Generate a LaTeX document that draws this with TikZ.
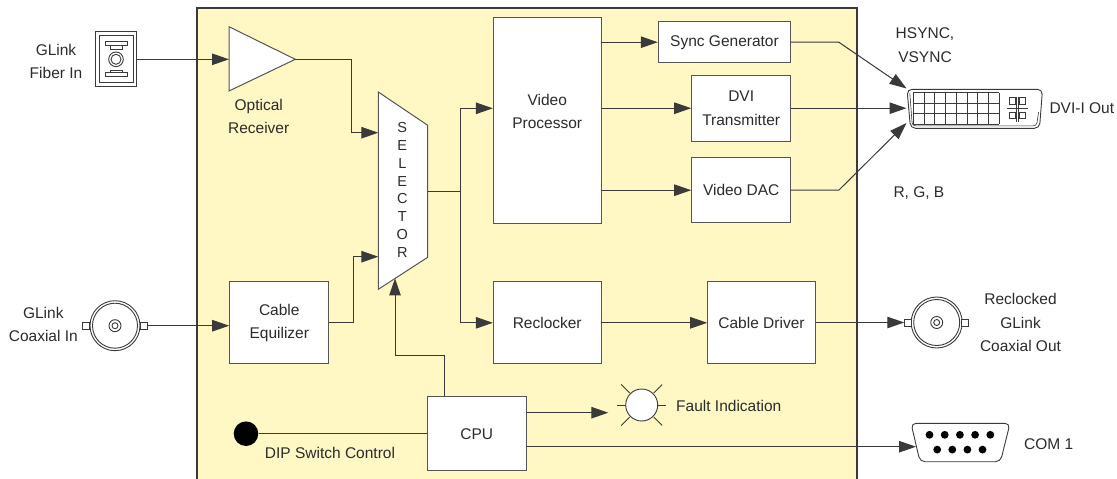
\documentclass[tikz,border=0pt]{standalone}
\usepackage{fontspec}
\setmainfont{Liberation Sans}
\usetikzlibrary{arrows.meta,calc}
\definecolor{yel}{HTML}{FFF8C4}
\definecolor{ln}{HTML}{3A3A3A}
\definecolor{bx}{HTML}{555555}
\definecolor{txt}{HTML}{2B2B2B}
\begin{document}
\begin{tikzpicture}[x=1pt,y=-1pt,
  every node/.style={font=\fontsize{15.5}{23.5}\selectfont, text=txt},
  blk/.style={draw=bx, fill=white, line width=1pt, align=center, inner sep=0pt},
  lbl/.style={align=center, inner sep=0pt},
  conn/.style={draw=ln, line width=1pt},
  arr/.style={conn, -{Triangle[length=17pt,width=11.5pt]}},
  part/.style={draw=ln, line width=0.9pt},
  thin/.style={draw=ln, line width=0.8pt},
  ray/.style={draw=ln, line width=0.8pt}]
\useasboundingbox (0,0) rectangle (1117,479);
% enclosure
\fill[yel] (197,8) rectangle (857,479);
\draw[draw=ln, line width=1.3pt] (197,479) -- (197,8) -- (857,8) -- (857,479);

% ---- fiber connector
\node[draw=ln, line width=0.9pt, fill=white, minimum width=41.4pt, minimum height=54.3pt, inner sep=0pt] (fib) at (116,58.85) {};
\draw[part] (99,35.7) rectangle (133,82.3);
\draw[part] (105,41.7) rectangle (127,45.7);
\draw[part] (110,45.7) rectangle (122,49);
\draw[part] (110,70) rectangle (122,72.7);
\draw[part] (105,72.7) rectangle (127,76.7);
\draw[part] (116,59.3) circle (7.3pt);
\draw[part] (116,59.3) circle (5pt);
\node[lbl] (fibl) at (56,61.5) {GLink\\Fiber In};

% ---- optical receiver
\coordinate (optin) at (229,59.3);
\coordinate (optout) at (295.3,59.3);
\draw[draw=bx, fill=white, line width=1pt] (229,26.7) -- (optout) -- (229,91) -- cycle;
\node[lbl] (optl) at (258.7,116.5) {Optical\\Receiver};
\draw[arr] (fib.east |- optin) -- (optin);

% ---- selector
\draw[draw=bx, fill=white, line width=1pt] (378.3,92) -- (427.7,125.3) -- (427.7,257.3) -- (378.3,289.3) -- cycle;
\coordinate (selin1) at (378.3,132.7);
\coordinate (selin2) at (378.3,256.7);
\coordinate (selbot) at (395,278.4);
\coordinate (selout) at (427.7,191);
\node[lbl, font=\fontsize{14.5}{17.8}\selectfont] (sell) at (402.3,190) {S\\E\\L\\E\\C\\T\\O\\R};
\draw[arr] (optout) -- ++(55.7,0) |- (selin1);

% ---- cable equalizer & coax in
\node[blk, minimum width=99.3pt, minimum height=82.3pt] (eq) at (279.3,322.8) {Cable\\Equilizer};
\draw[arr] (eq.east) -- ++(24,0) |- (selin2);
\draw[part] (115,325.7) circle (25pt);
\draw[part] (115,325.7) circle (22.5pt);
\draw[part] (115,325.7) circle (6pt);
\draw[part] (115,325.7) circle (3pt);
\draw[part, fill=white] (82.7,322.2) rectangle (89.7,329.2);
\node[draw=ln, line width=0.9pt, fill=white, minimum size=7pt, inner sep=0pt] (bncin) at (143.7,325.7) {};
\node[lbl] (bncinl) at (43.3,324.5) {GLink\\Coaxial In};
\draw[arr] (bncin.east) -- (eq.west |- bncin);

% ---- video processor & outputs
\node[blk, minimum width=107.7pt, minimum height=206pt] (vp) at (547.2,120.3) {};
\node[lbl] (vpl) at (547.2,111.3) {Video\\Processor};
\node[blk, minimum width=132.4pt, minimum height=41pt] (sync) at (724.5,42.2) {Sync Generator};
\node[blk, minimum width=99pt, minimum height=65.7pt] (dvit) at (741.2,108.2) {DVI\\Transmitter};
\node[blk, minimum width=99pt, minimum height=65pt] (dac) at (741.2,190.2) {Video DAC};
\node[blk, minimum width=107.7pt, minimum height=82.3pt] (recl) at (547.2,322.8) {Reclocker};
\node[blk, minimum width=107.6pt, minimum height=82.3pt] (cdrv) at (761.5,322.8) {Cable Driver};
\node[blk, minimum width=98.7pt, minimum height=74pt] (cpu) at (476.7,433.7) {CPU};

\coordinate (split) at (460,191);
\draw[conn] (selout) -- (split);
\draw[arr] (split) |- ([yshift=12pt]vp.west);
\draw[arr] (split) |- (recl.west);
\draw[arr] (vp.east |- sync.west) -- (sync.west);
\draw[arr] (vp.east |- dvit.west) -- (dvit.west);
\draw[arr] (vp.east |- dac.west) -- (dac.west);
\draw[arr] (recl.east) -- (cdrv.west);

% ---- DVI connector
\coordinate (dvitop) at (906.5,88.5);
\coordinate (dvimid) at (906.5,108.2);
\coordinate (dvibot) at (906.5,123);
\draw[part, fill=white, rounded corners=5pt] (907,89.3) -- (1042.5,89.3) -- (1039.5,128.3) -- (910.5,128.3) -- cycle;
\draw[draw=ln, line width=0.6pt, rounded corners=3pt] (909.8,93) -- (912.3,125.8) -- (1036.5,125.8) -- (1038.6,112);
\foreach \i in {0,...,8} \draw[thin] (913.3+10.75*\i,92.7) -- (913.3+10.75*\i,124);
\foreach \j in {0,...,3} \draw[thin] (913.3,92.7+10.43*\j) -- (999.3,92.7+10.43*\j);
\draw[thin] (1009.3,97.7) rectangle (1015.5,104);
\draw[thin] (1019.3,97.7) rectangle (1025.5,104);
\draw[thin] (1009.3,112.5) rectangle (1015.5,118.8);
\draw[thin] (1019.3,112.5) rectangle (1025.5,118.8);
\draw[thin] (1006.7,108.3) -- (1028.3,108.3);
\draw[thin] (1016.4,96.7) -- (1016.4,122.3);
\draw[thin] (1018.4,96.7) -- (1018.4,122.3);
\node[lbl] (hv) at (925,45.3) {HSYNC,\\VSYNC};
\node[lbl, anchor=west] (dvil) at (1049.3,108.3) {DVI-I Out};
\node[lbl, anchor=west] (rgb) at (893.3,192.7) {R, G, B};
\draw[arr] (sync.east) -- ++(47.6,0) -- (dvitop);
\draw[arr] (dvit.east) -- (dvimid);
\draw[arr] (dac.east) -- ++(47.6,0) -- (dvibot);

% ---- BNC out
\draw[part] (936.7,322.5) circle (25.5pt);
\draw[part] (936.7,322.5) circle (23pt);
\draw[part] (936.7,322.5) circle (6pt);
\draw[part] (936.7,322.5) circle (3pt);
\node[draw=ln, line width=0.9pt, fill=white, minimum size=7pt, inner sep=0pt] (bncout) at (908.2,322.5) {};
\draw[part, fill=white] (961.7,319) rectangle (968.7,326);
\node[lbl] (bncoutl) at (1020.5,322.7) {Reclocked\\GLink\\Coaxial Out};
\draw[arr] (cdrv.east |- bncout) -- (bncout.west);

% ---- DIP, fault, COM
\node[circle, fill=black, minimum size=24.6pt, inner sep=0pt] (dip) at (246,433.7) {};
\node[lbl] (dipl) at (330,453.3) {DIP Switch Control};
\draw[conn] (dip) -- (cpu.west);
\draw[arr] ($(cpu.north west)+(17.6,0)$) -- ++(0,-41) -| (selbot);

\node[circle, draw=ln, line width=0.9pt, fill=white, minimum size=32pt, inner sep=0pt] (lamp) at (641.7,405) {};
\foreach \a in {45,135,225,315} \draw[ray] ($(lamp)+(\a:17pt)$) -- ($(lamp)+(\a:29pt)$);
\foreach \a in {0,180} \draw[ray] ($(lamp)+(\a:16pt)$) -- ($(lamp)+(\a:24.5pt)$);
\node[lbl, anchor=west] (faultl) at (676,406) {Fault Indication};
\coordinate (lampin) at (608.3,412.7);
\draw[arr] (cpu.east |- lampin) -- (lampin);

\draw[part, fill=white, rounded corners=5pt] (911,423.3) -- (1010,423.3) -- (1000.5,461.7) -- (920,461.7) -- cycle;
\foreach \i in {0,...,4} \fill[black] (929.5+15.2*\i,434.8) circle (3.9pt);
\foreach \i in {0,...,3} \fill[black] (937.2+15.1*\i,449.6) circle (3.9pt);
\coordinate (comin) at (916,446.7);
\node[lbl, anchor=west] (coml) at (1024,444.3) {COM 1};
\draw[arr] (cpu.east |- comin) -- (comin);
\end{tikzpicture}
\end{document}
